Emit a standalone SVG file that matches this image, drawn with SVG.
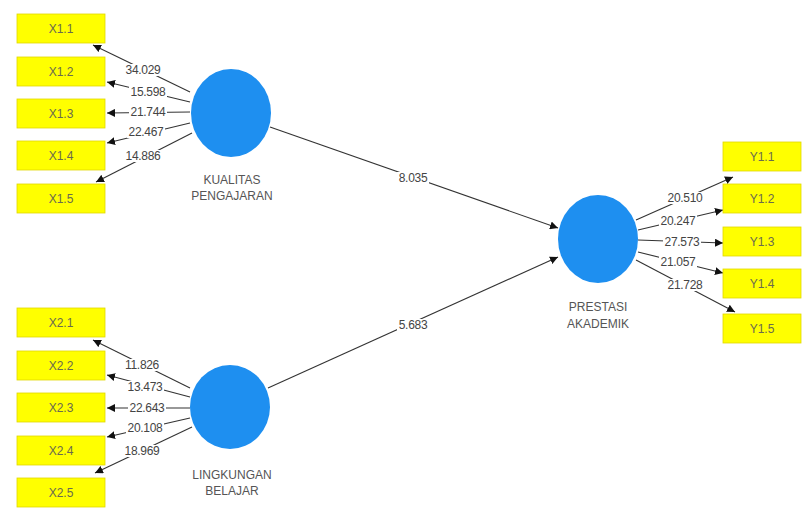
<svg xmlns="http://www.w3.org/2000/svg" width="803" height="508" viewBox="0 0 803 508">
<defs>
<marker id="arr" markerUnits="userSpaceOnUse" markerWidth="9" markerHeight="8" refX="8" refY="4" orient="auto">
<path d="M0,0 L8,4 L0,8 z" fill="#111"/>
</marker>
<style>
.box{fill:#ffff00;stroke:#e0d800;stroke-width:0.8}
.bt{font-family:"Liberation Sans",Arial,sans-serif;font-size:12px;fill:#6a6a50;text-anchor:middle;dominant-baseline:central}
.lv{fill:#1e8ff0}
.lt{font-family:"Liberation Sans",Arial,sans-serif;font-size:12px;fill:#555;text-anchor:middle}
.ln{stroke:#333;stroke-width:1.1;fill:none;marker-end:url(#arr)}
.bg{fill:#fff}
.val{font-family:"Liberation Sans",Arial,sans-serif;font-size:12px;fill:#444;text-anchor:middle;dominant-baseline:central;letter-spacing:-0.3px}
</style>
</defs>
<rect width="803" height="508" fill="#fff"/>
<g id="connectors">
<line class="ln" x1="190" y1="92" x2="93" y2="45"/>
<line class="ln" x1="190" y1="102" x2="107" y2="82"/>
<line class="ln" x1="190" y1="112" x2="107" y2="113"/>
<line class="ln" x1="190" y1="123" x2="107" y2="143"/>
<line class="ln" x1="192" y1="133" x2="96" y2="182"/>
<line class="ln" x1="190" y1="388" x2="93" y2="340"/>
<line class="ln" x1="190" y1="397" x2="107" y2="375"/>
<line class="ln" x1="190" y1="408" x2="107" y2="408"/>
<line class="ln" x1="190" y1="418" x2="107" y2="437"/>
<line class="ln" x1="192" y1="427" x2="95" y2="473"/>
<line class="ln" x1="636" y1="220" x2="733" y2="177"/>
<line class="ln" x1="638" y1="230" x2="723" y2="210"/>
<line class="ln" x1="638" y1="240" x2="723" y2="243"/>
<line class="ln" x1="638" y1="252" x2="723" y2="273"/>
<line class="ln" x1="636" y1="260" x2="735" y2="312"/>
<line class="ln" x1="270" y1="127" x2="558" y2="228"/>
<line class="ln" x1="268" y1="388" x2="558" y2="257"/>
<rect class="bg" x="124" y="64" width="38" height="12"/><text class="val" x="143" y="70">34.029</text>
<rect class="bg" x="129" y="86" width="38" height="12"/><text class="val" x="148" y="92">15.598</text>
<rect class="bg" x="129" y="106" width="38" height="12"/><text class="val" x="148" y="112">21.744</text>
<rect class="bg" x="127" y="126" width="38" height="12"/><text class="val" x="146" y="132">22.467</text>
<rect class="bg" x="124" y="150" width="38" height="12"/><text class="val" x="143" y="156">14.886</text>
<rect class="bg" x="123" y="359" width="38" height="12"/><text class="val" x="142" y="365">11.826</text>
<rect class="bg" x="126" y="381" width="38" height="12"/><text class="val" x="145" y="387">13.473</text>
<rect class="bg" x="128" y="402" width="38" height="12"/><text class="val" x="147" y="408">22.643</text>
<rect class="bg" x="126" y="422" width="38" height="12"/><text class="val" x="145" y="428">20.108</text>
<rect class="bg" x="123" y="445" width="38" height="12"/><text class="val" x="142" y="451">18.969</text>
<rect class="bg" x="666" y="192" width="38" height="12"/><text class="val" x="685" y="198">20.510</text>
<rect class="bg" x="659" y="215" width="38" height="12"/><text class="val" x="678" y="221">20.247</text>
<rect class="bg" x="663" y="236" width="38" height="12"/><text class="val" x="682" y="242">27.573</text>
<rect class="bg" x="659" y="256" width="38" height="12"/><text class="val" x="678" y="262">21.057</text>
<rect class="bg" x="666" y="279" width="38" height="12"/><text class="val" x="685" y="285">21.728</text>
<rect class="bg" x="397" y="172" width="32" height="12"/><text class="val" x="413" y="178">8.035</text>
<rect class="bg" x="397" y="319" width="32" height="12"/><text class="val" x="413" y="325">5.683</text>
</g>
<g id="X1.1"><rect class="box" x="17" y="14" width="88" height="29"/><text class="bt" x="61" y="28.5">X1.1</text></g>
<g id="X1.2"><rect class="box" x="17" y="57" width="88" height="29"/><text class="bt" x="61" y="71.5">X1.2</text></g>
<g id="X1.3"><rect class="box" x="17" y="99" width="88" height="29"/><text class="bt" x="61" y="113.5">X1.3</text></g>
<g id="X1.4"><rect class="box" x="17" y="141" width="88" height="29"/><text class="bt" x="61" y="155.5">X1.4</text></g>
<g id="X1.5"><rect class="box" x="17" y="184" width="88" height="29"/><text class="bt" x="61" y="198.5">X1.5</text></g>
<g id="X2.1"><rect class="box" x="17" y="308" width="88" height="29"/><text class="bt" x="61" y="322.5">X2.1</text></g>
<g id="X2.2"><rect class="box" x="17" y="351" width="88" height="29"/><text class="bt" x="61" y="365.5">X2.2</text></g>
<g id="X2.3"><rect class="box" x="17" y="393" width="88" height="29"/><text class="bt" x="61" y="407.5">X2.3</text></g>
<g id="X2.4"><rect class="box" x="17" y="436" width="88" height="29"/><text class="bt" x="61" y="450.5">X2.4</text></g>
<g id="X2.5"><rect class="box" x="17" y="478" width="88" height="29"/><text class="bt" x="61" y="492.5">X2.5</text></g>
<g id="Y1.1"><rect class="box" x="723" y="142" width="78" height="29"/><text class="bt" x="762" y="156.5">Y1.1</text></g>
<g id="Y1.2"><rect class="box" x="723" y="184" width="78" height="29"/><text class="bt" x="762" y="198.5">Y1.2</text></g>
<g id="Y1.3"><rect class="box" x="723" y="227" width="78" height="29"/><text class="bt" x="762" y="241.5">Y1.3</text></g>
<g id="Y1.4"><rect class="box" x="723" y="269" width="78" height="29"/><text class="bt" x="762" y="283.5">Y1.4</text></g>
<g id="Y1.5"><rect class="box" x="723" y="314" width="78" height="29"/><text class="bt" x="762" y="328.5">Y1.5</text></g>
<g id="KUALITAS_PENGAJARAN"><ellipse class="lv" cx="231" cy="113" rx="40" ry="44"/><text class="lt" x="232" y="184">KUALITAS</text><text class="lt" x="232" y="200">PENGAJARAN</text></g>
<g id="LINGKUNGAN_BELAJAR"><ellipse class="lv" cx="230" cy="407" rx="40" ry="42"/><text class="lt" x="232" y="479">LINGKUNGAN</text><text class="lt" x="232" y="495">BELAJAR</text></g>
<g id="PRESTASI_AKADEMIK"><ellipse class="lv" cx="598" cy="239" rx="40" ry="44"/><text class="lt" x="598" y="311">PRESTASI</text><text class="lt" x="598" y="328">AKADEMIK</text></g>
</svg>
